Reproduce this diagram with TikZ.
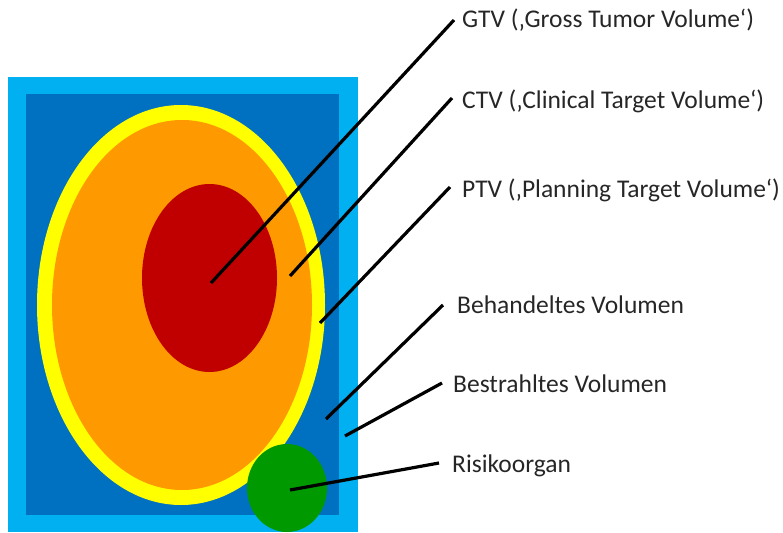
\documentclass[tikz,border=0pt]{standalone}
\usepackage{fontspec}
\setmainfont{Carlito}
\definecolor{lblue}{RGB}{0,176,240}
\definecolor{dblue}{RGB}{0,112,192}
\definecolor{yel}{RGB}{255,255,0}
\definecolor{ora}{RGB}{255,153,0}
\definecolor{redd}{RGB}{192,0,0}
\definecolor{gre}{RGB}{0,153,0}
\begin{document}
\begin{tikzpicture}[x=1pt,y=-1pt,
  lbl/.style={anchor=base west,inner sep=0pt,font=\fontsize{25.5}{28}\selectfont,text=black!85},
  leader/.style={draw=black,line width=3.2pt}]
\useasboundingbox (0,0) rectangle (783,532);
\fill[lblue] (8,77) rectangle (358,532);
\fill[dblue] (26,94) rectangle (339,515);
\fill[yel] (181,305) ellipse [x radius=144,y radius=200];
\fill[ora] (182,305) ellipse [x radius=130,y radius=185];
\fill[redd] (209.5,278) ellipse [x radius=67.5,y radius=94];
\fill[gre] (287,488) ellipse [x radius=40,y radius=44];
% label texts
\node[lbl] (gtv) at (462,28) {GTV (‚Gross Tumor Volume‘)};
\node[lbl] (ctv) at (462,108) {CTV (‚Clinical Target Volume‘)};
\node[lbl] (ptv) at (462,197) {PTV (‚Planning Target Volume‘)};
\node[lbl] (beh) at (457,313) {Behandeltes Volumen};
\node[lbl] (bes) at (453,392) {Bestrahltes Volumen};
\node[lbl] (ris) at (452,472) {Risikoorgan};
% leader ends
\coordinate (gtvA) at (211,283); \coordinate (gtvB) at (454,20);
\coordinate (ctvA) at (290,276); \coordinate (ctvB) at (452,98);
\coordinate (ptvA) at (320,323); \coordinate (ptvB) at (450,187);
\coordinate (behA) at (326,419); \coordinate (behB) at (443,305);
\coordinate (besA) at (345,436); \coordinate (besB) at (442,383);
\coordinate (risA) at (290,490); \coordinate (risB) at (439,463);
\draw[leader] (gtvA) -- (gtvB);
\draw[leader] (ctvA) -- (ctvB);
\draw[leader] (ptvA) -- (ptvB);
\draw[leader] (behA) -- (behB);
\draw[leader] (besA) -- (besB);
\draw[leader] (risA) -- (risB);
\end{tikzpicture}
\end{document}
